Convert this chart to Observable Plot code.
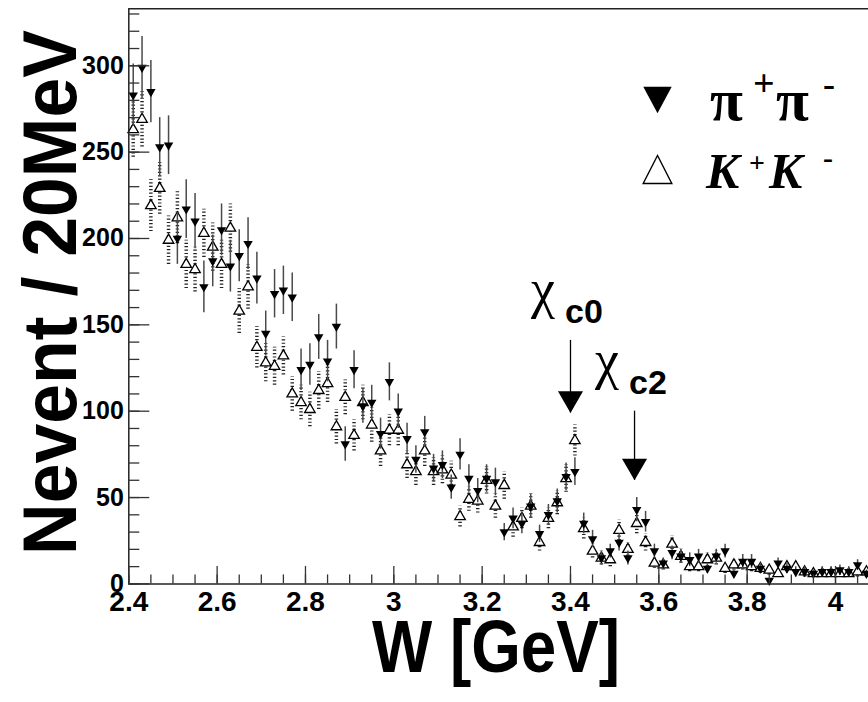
<!DOCTYPE html>
<html><head><meta charset="utf-8">
<script src="https://cdn.jsdelivr.net/npm/d3@7"></script>
<script src="https://cdn.jsdelivr.net/npm/@observablehq/plot@0.6"></script>
<style>body{margin:0;background:#fff}#chart{width:868px;height:702px;overflow:hidden}</style>
</head><body><div id="chart"></div>
<script>
// bin centres (GeV), 20 MeV bins
const W = [2.41,2.43,2.45,2.47,2.49,2.51,2.53,2.55,2.57,2.59,2.61,2.63,2.65,2.67,2.69,2.71,2.73,2.75,2.77,2.79,2.81,2.83,2.85,2.87,2.89,2.91,2.93,2.95,2.97,2.99,3.01,3.03,3.05,3.07,3.09,3.11,3.13,3.15,3.17,3.19,3.21,3.23,3.25,3.27,3.29,3.31,3.33,3.35,3.37,3.39,3.41,3.43,3.45,3.47,3.49,3.51,3.53,3.55,3.57,3.59,3.61,3.63,3.65,3.67,3.69,3.71,3.73,3.75,3.77,3.79,3.81,3.83,3.85,3.87,3.89,3.91,3.93,3.95,3.97,3.99,4.01,4.03,4.05,4.07];
// pi+ pi- events
const pipi = [283,299,285,253,254,200,217,210,172,187,205,184,190,197,177,145,168,170,166,124,127,143,129,149,81,124,103,105,87,117,100,84,72,88,67,69,56,75,61,54,61,59,30,38,35,45,29,40,48,62,65,35,26,15,19,24,15,43,36,19,12,18,16,14,16,9,16,19,6,13,13,9,2,12,9,7,7,6,7,7,8,7,11,6];
const pipiErr = [18,18,18,17,17,15,17,16,15,15,15,15,15,15,15,13,14,14,14,12,12,13,12,13,10,11,10,10,9,11,10,9,8,9,8,8,7,9,8,7,8,8,5,6,6,7,5,6,7,8,8,6,5,4,4,5,4,7,6,4,3,4,4,4,4,3,4,4,2,4,4,3,1,3,3,3,3,2,3,3,3,3,3,2];
// K+ K- events
const kk = [263,269,219,229,199,212,185,182,203,195,185,206,158,172,137,128,126,132,110,105,101,112,116,91,108,86,105,92,77,89,89,69,65,77,65,66,63,39,49,48,60,45,57,33,38,45,24,38,47,61,83,32,19,15,14,31,20,35,24,12,11,23,16,10,10,14,15,9,11,11,10,9,8,6,10,10,7,6,6,6,6,6,7,7];
const kkErr = [16,16,15,15,14,15,14,13,14,14,14,14,13,13,12,11,11,11,10,10,10,11,11,10,10,9,10,10,9,9,9,8,8,9,8,8,8,6,7,7,8,7,8,6,6,7,5,6,7,8,9,6,4,4,4,6,4,6,5,3,3,5,4,3,3,4,4,3,3,3,3,3,3,2,3,3,3,2,2,2,2,2,3,3];
// axes
const yMajor = [0,50,100,150,200,250,300];
const yMinor = [0,10,20,30,40,50,60,70,80,90,100,110,120,130,140,150,160,170,180,190,200,210,220,230,240,250,260,270,280,290,300,310,320,330];
const xMajor = [2.4,2.6,2.8,3.0,3.2,3.4,3.6,3.8,4.0];
const xTickLabels = ["2.4","2.6","2.8","3","3.2","3.4","3.6","3.8","4"];
const xMinor = [2.4,2.45,2.5,2.55,2.6,2.65,2.7,2.75,2.8,2.85,2.9,2.95,3.0,3.05,3.1,3.15,3.2,3.25,3.3,3.35,3.4,3.45,3.5,3.55,3.6,3.65,3.7,3.75,3.8,3.85,3.9,3.95,4.0,4.05];
// resonance annotations
const resSub = ["c0","c2"];
const resX = [3.40, 3.545];
const arrowTop = [141, 100];
const arrowTip = [99, 60];

const rows = W.map((w,i)=>({w, pp: pipi[i], ppe: pipiErr[i], kk: kk[i], kke: kkErr[i]}));
const arrows = resX.map((x,i)=>({x, top: arrowTop[i], tip: arrowTip[i], sub: resSub[i]}));

const FONT = "Liberation Sans, Arial, Helvetica, sans-serif";
const SERIF = "Liberation Serif, Times New Roman, serif";

const plot = Plot.plot({
  width: 868, height: 702,
  marginLeft: 128.3, marginRight: 0, marginTop: 8.3, marginBottom: 118.6,
  x: {domain: [2.4, 4.0747], axis: null},
  y: {domain: [0, 333], axis: null},
  style: {background: "white", fontFamily: FONT, color: "black"},
  marks: [
    Plot.ruleX(rows, {x: "w", y1: d => d.kk - d.kke, y2: d => d.kk + d.kke, stroke: "#222", strokeWidth: 3.5, strokeDasharray: "1.2,2.2"}),
    Plot.dot(rows, {x: "w", y: "kk", symbol: "triangle", r: 3.9, fill: "white", stroke: "black", strokeWidth: 1.3}),
    Plot.ruleX(rows, {x: "w", y1: d => d.pp - d.ppe, y2: d => d.pp + d.ppe, stroke: "#4a4a4a", strokeWidth: 1.5}),
    Plot.dot(rows, {x: "w", y: "pp", symbol: "triangle", rotate: 180, r: 3.5, fill: "black"}),
    Plot.ruleY([0], {stroke: "#222", strokeWidth: 1.5}),
    Plot.ruleY([333], {stroke: "#222", strokeWidth: 1.5}),
    Plot.ruleX([2.4], {stroke: "#222", strokeWidth: 1.5}),
    Plot.axisY(yMinor, {anchor: "left", tickSize: -11, fill: "none", label: null, stroke: "#333", strokeWidth: 1.3}),
    Plot.axisY(yMajor, {anchor: "left", tickSize: -21, fill: "none", label: null, stroke: "#333", strokeWidth: 1.3}),
    Plot.axisY(yMajor, {anchor: "left", tickSize: 0, tickPadding: 5, fontSize: 25, fontWeight: "bold", label: null, tickFormat: d => String(d)}),
    Plot.axisX(xMinor, {anchor: "bottom", tickSize: -9, fill: "none", label: null, stroke: "#333", strokeWidth: 1.3}),
    Plot.axisX(xMajor, {anchor: "bottom", tickSize: -17.5, fill: "none", label: null, stroke: "#333", strokeWidth: 1.3}),
    Plot.axisX(xMajor, {anchor: "bottom", tickSize: 0, tickPadding: 7, fontSize: 28, fontWeight: "bold", label: null, tickFormat: d => xTickLabels[xMajor.indexOf(d)]}),
    Plot.ruleX(arrows, {x: "x", y1: "top", y2: "tip", stroke: "black", strokeWidth: 1.3}),
    Plot.dot(arrows, {x: "x", y: "tip", symbol: "triangle", rotate: 180, r: 9.3, fill: "black", dy: -14.4})
  ]
});
document.getElementById("chart").appendChild(plot);

const svg = d3.select(plot);
// drop invisible tick-label texts produced by the tick-only axes
svg.selectAll("text").filter(function() {
  return getComputedStyle(this).fill === "none" || !this.textContent.trim();
}).remove();

const xs = plot.scale("x"), ys = plot.scale("y");
const g = svg.append("g").attr("fill", "black").attr("text-anchor", "start");

// axis titles
g.append("text").attr("transform", "translate(76,292.5) rotate(-90)")
  .attr("text-anchor", "middle").attr("font-family", FONT).attr("font-weight", "bold")
  .attr("font-size", 76).attr("textLength", 525).attr("lengthAdjust", "spacingAndGlyphs")
  .text("Nevent / 20MeV");
g.append("text").attr("x", 496).attr("y", 672)
  .attr("text-anchor", "middle").attr("font-family", FONT).attr("font-weight", "bold")
  .attr("font-size", 75).attr("textLength", 248).attr("lengthAdjust", "spacingAndGlyphs")
  .text("W [GeV]");

// resonance labels
arrows.forEach(a => {
  const px = xs.apply(a.x), pt = ys.apply(a.top);
  g.append("text").attr("x", px - 39).attr("y", pt - 33).attr("font-family", SERIF)
    .attr("font-size", 54).text("χ");
  g.append("text").attr("x", px - 5).attr("y", pt - 17).attr("font-family", FONT)
    .attr("font-weight", "bold").attr("font-size", 34).text(a.sub);
});

// legend
g.append("polygon").attr("points", "643.3,86.7 671.7,86.7 657.5,113.3").attr("fill", "black");
g.append("polygon").attr("points", "657.5,155.5 643.2,183.5 671.8,183.5").attr("fill", "white").attr("stroke", "black").attr("stroke-width", 1.4);
const t1 = [["π", 710, 120, 60], ["+", 753, 96, 38], ["π", 776, 120, 60], ["-", 823, 96, 36]];
t1.forEach(([s, x, y, f]) => g.append("text").attr("x", x).attr("y", y).attr("font-family", SERIF)
  .attr("font-weight", "bold").attr("font-size", f).text(s));
const t2 = [["K", 706, 188, 50, "italic"], ["+", 749, 172, 28, "normal"], ["K", 769, 188, 50, "italic"], ["-", 823, 168, 30, "normal"]];
t2.forEach(([s, x, y, f, st]) => g.append("text").attr("x", x).attr("y", y).attr("font-family", SERIF)
  .attr("font-weight", "bold").attr("font-style", st).attr("font-size", f).text(s));
</script>
</body></html>
